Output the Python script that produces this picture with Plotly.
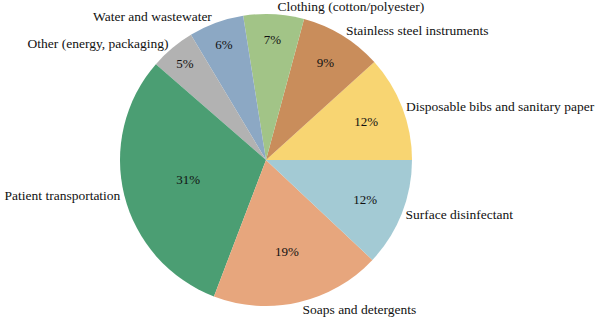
import plotly.graph_objects as go

categories = ["Disposable bibs and sanitary paper", "Stainless steel instruments",
              "Clothing (cotton/polyester)", "Water and wastewater",
              "Other (energy, packaging)", "Patient transportation",
              "Soaps and detergents", "Surface disinfectant"]
values = [11.7, 9.1, 6.7, 6.1, 5.0, 30.6, 18.8, 12.0]
colors = ["#F8D572", "#C98D5B", "#A2C487", "#8CA8C4", "#B2B2B2", "#4B9E73", "#E7A67D", "#A3CAD4"]

FONT = "'Liberation Serif', 'Times New Roman', serif"
dom_x = [(266 - 146) / 600, (266 + 146) / 600]
dom_y = [(319 - 306) / 319, (319 - 14) / 319]
# first slice starts at 3 o'clock and runs counterclockwise
rot = 90 - values[0] / sum(values) * 360

common = dict(labels=categories, values=values, sort=False, direction="counterclockwise",
              rotation=rot, domain=dict(x=dom_x, y=dom_y), showlegend=False, automargin=False)

fig = go.Figure()
fig.add_trace(go.Pie(
    **common,
    marker=dict(colors=["rgba(0,0,0,0)"] * len(values), line=dict(width=0)),
    textinfo="label", textposition="outside",
    textfont=dict(family=FONT, size=13.5, color="#111111"),
    hoverinfo="skip",
))
fig.add_trace(go.Pie(
    **common,
    marker=dict(colors=colors, line=dict(width=0)),
    texttemplate="%{percent:.0%}", textposition="inside",
    insidetextorientation="horizontal",
    textfont=dict(family=FONT, size=13, color="#111111"),
))
fig.update_layout(
    width=600, height=319, margin=dict(l=0, r=0, t=0, b=0),
    paper_bgcolor="white", plot_bgcolor="white",
    font=dict(family=FONT),
)
fig.write_html("out.html")
